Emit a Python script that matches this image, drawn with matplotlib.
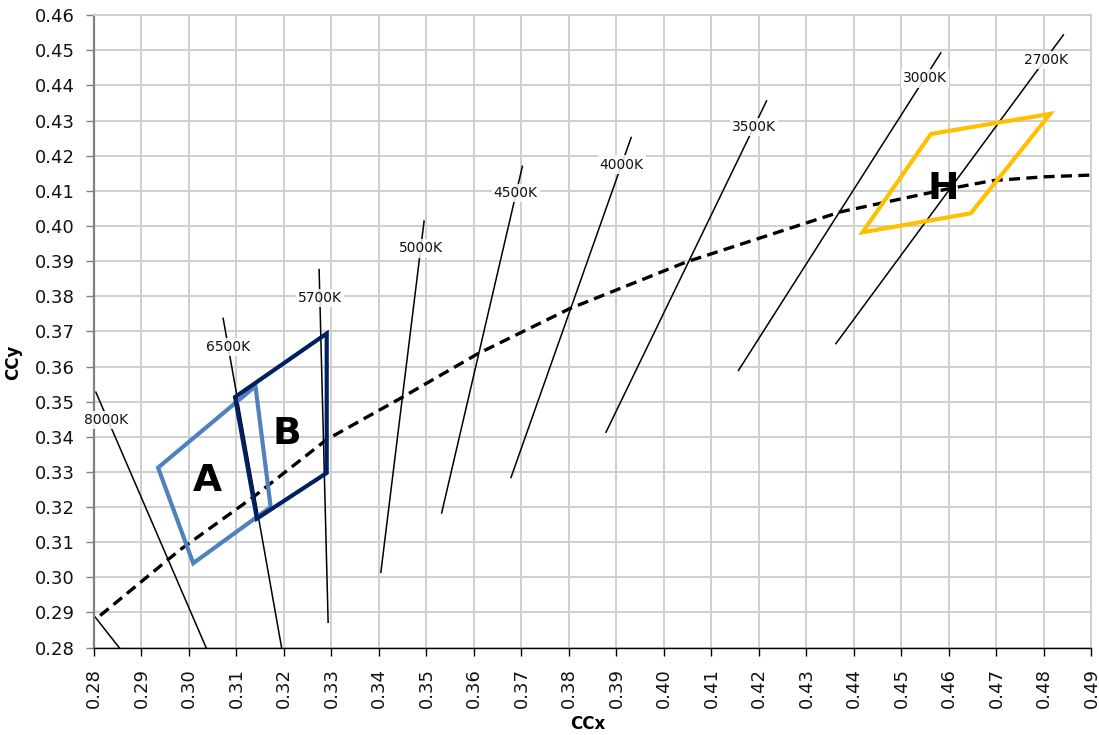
import matplotlib
matplotlib.use("Agg")
import matplotlib.pyplot as plt
import numpy as np

# Planckian locus (CIE 1931 x, y)
locus_x = [0.2813, 0.2981, 0.3135, 0.3290, 0.3450, 0.3609, 0.3802, 0.4048,
           0.4371, 0.4592, 0.4691, 0.4800, 0.4900]
locus_y = [0.2891, 0.3078, 0.3228, 0.3392, 0.3513, 0.3637, 0.3765, 0.3898,
           0.4040, 0.4104, 0.4129, 0.4140, 0.4145]

# Isotherm segments with label positions
iso_names = ["8000K", "6500K", "5700K", "5000K", "4500K", "4000K", "3500K", "3000K", "2700K"]
iso_x_top = [0.2804, 0.3072, 0.3274, 0.3495, 0.3702, 0.3931, 0.4216, 0.4583, 0.4841]
iso_y_top = [0.3527, 0.3737, 0.3876, 0.4014, 0.4170, 0.4252, 0.4356, 0.4493, 0.4544]
iso_x_bot = [0.3036, 0.3195, 0.3293, 0.3404, 0.3532, 0.3678, 0.3878, 0.4157, 0.4362]
iso_y_bot = [0.2800, 0.2800, 0.2872, 0.3014, 0.3183, 0.3284, 0.3413, 0.3589, 0.3665]
iso_label_x = [0.2825, 0.3082, 0.3276, 0.3488, 0.3688, 0.3911, 0.4189, 0.4550, 0.4804]
iso_label_y = [0.3447, 0.3656, 0.3796, 0.3936, 0.4093, 0.4175, 0.4282, 0.4420, 0.4472]

# short unlabeled isotherm at the lower-left corner
corner_iso_x = [0.2800, 0.2853]
corner_iso_y = [0.2891, 0.2800]

# Tolerance quadrangles
quad_a_x = [0.2935, 0.3009, 0.3172, 0.3140]
quad_a_y = [0.3312, 0.3040, 0.3200, 0.3544]
quad_b_x = [0.3097, 0.3290, 0.3290, 0.3143]
quad_b_y = [0.3513, 0.3694, 0.3297, 0.3167]
quad_h_x = [0.4562, 0.4813, 0.4646, 0.4418]
quad_h_y = [0.4262, 0.4319, 0.4036, 0.3982]

quad_names = ["A", "B", "H"]
quad_label_x = [0.3039, 0.3206, 0.4588]
quad_label_y = [0.3273, 0.3409, 0.4106]

x_ticks = np.round(np.arange(0.28, 0.4901, 0.01), 2)
y_ticks = np.round(np.arange(0.28, 0.4601, 0.01), 2)

fig = plt.figure(figsize=(10.99, 7.35), dpi=100)
ax = fig.add_axes([0.0855, 0.1190, 0.9076, 0.8603])

grid_color = "#CFCFCF"
ax.set_xlim(0.28, 0.49)
ax.set_ylim(0.28, 0.46)
ax.set_xticks(x_ticks)
ax.set_yticks(y_ticks)
ax.set_xticklabels([f"{v:.2f}" for v in x_ticks], rotation=90)
ax.set_yticklabels([f"{v:.2f}" for v in y_ticks])
ax.grid(True, color=grid_color, linewidth=1.4, zorder=0)
ax.set_axisbelow(True)

for side in ("top", "right"):
    ax.spines[side].set_color(grid_color)
    ax.spines[side].set_linewidth(1.4)
ax.spines["left"].set_color("#808080")
ax.spines["left"].set_linewidth(1.6)
ax.spines["bottom"].set_color("black")
ax.spines["bottom"].set_linewidth(1.0)

ax.tick_params(axis="y", direction="out", length=6, width=1, color="#808080",
               labelsize=13, pad=8, labelcolor="#111111")
ax.tick_params(axis="x", direction="out", length=6, width=1, color="black",
               labelsize=13, pad=9, labelcolor="#111111")

ax.set_xlabel("CCx", fontsize=12, fontweight="bold")
ax.set_ylabel("CCy", fontsize=12, fontweight="bold")
ax.xaxis.set_label_coords(0.495, -0.106)
ax.yaxis.set_label_coords(-0.072, 0.451)

# isotherm lines
for i in range(len(iso_names)):
    ax.plot([iso_x_top[i], iso_x_bot[i]], [iso_y_top[i], iso_y_bot[i]],
            color="black", linewidth=1.1, zorder=2)
ax.plot(corner_iso_x, corner_iso_y, color="black", linewidth=1.1, zorder=2)

# Planckian locus
ax.plot(locus_x, locus_y, color="black", linewidth=2.4, linestyle=(0, (3.3, 1.9)),
        zorder=3)

# quadrangles
for qx, qy, col in [(quad_a_x, quad_a_y, "#4F81BD"),
                    (quad_b_x, quad_b_y, "#002060"),
                    (quad_h_x, quad_h_y, "#FFC000")]:
    ax.fill(qx, qy, facecolor="none", edgecolor=col, linewidth=3.0,
            joinstyle="miter", zorder=4)

# isotherm labels
for i in range(len(iso_names)):
    ax.text(iso_label_x[i], iso_label_y[i], iso_names[i], fontsize=10,
            color="#111111", ha="center", va="center", zorder=5,
            bbox=dict(boxstyle="square,pad=0.15", facecolor="white",
                      edgecolor="none", alpha=0.85))

for i in range(len(quad_names)):
    ax.text(quad_label_x[i], quad_label_y[i], quad_names[i], fontsize=27,
            fontweight="bold", color="black", ha="center", va="center", zorder=6)

fig.savefig("out.png", dpi=100)
